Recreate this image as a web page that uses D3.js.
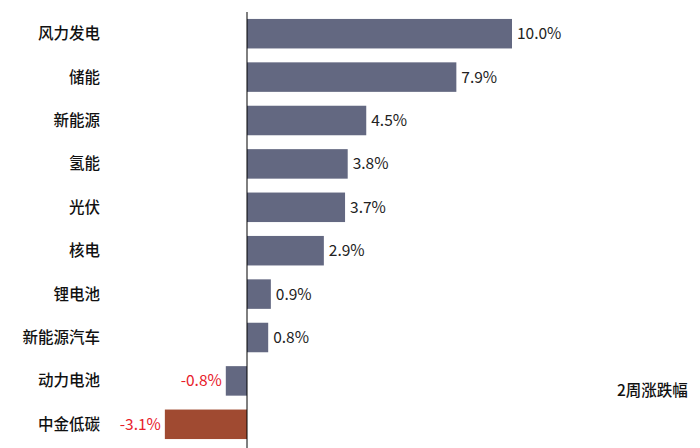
<!DOCTYPE html>
<html><head><meta charset="utf-8">
<script src="https://d3js.org/d3.v7.min.js"></script>
<style>body{margin:0;background:#fff}text{font-family:"Noto Sans CJK SC","Liberation Sans",sans-serif}</style>
</head><body><svg id="c" width="700" height="448"></svg>
<script>
const categories=["风力发电","储能","新能源","氢能","光伏","核电","锂电池","新能源汽车","动力电池","中金低碳"];
const values=[10.0,7.9,4.5,3.8,3.7,2.9,0.9,0.8,-0.8,-3.1];
const legendLabel="2周涨跌幅";
const svg=d3.select("#c");
const x=d3.scaleLinear().domain([0,10]).range([247,512]);
const y=d3.scaleBand().domain(categories).range([12,446]).paddingInner(0.32).paddingOuter(0.16);
svg.selectAll("rect").data(values).join("rect")
 .attr("x",d=>Math.min(x(0),x(d))).attr("width",d=>Math.abs(x(d)-x(0)))
 .attr("y",(d,i)=>y(categories[i])).attr("height",y.bandwidth())
 .attr("fill",(d,i)=>i===categories.length-1?"#A04A31":"#636881");
svg.append("line").attr("x1",x(0)).attr("x2",x(0)).attr("y1",12).attr("y2",448).attr("stroke","#000");
svg.selectAll(".cat").data(categories).join("text")
 .attr("x",100).attr("y",d=>y(d)+y.bandwidth()/2).attr("dy","0.35em")
 .attr("text-anchor","end").attr("font-size",15.5).attr("font-weight",500).attr("fill","#111").text(d=>d);
svg.selectAll(".val").data(values).join("text")
 .attr("x",d=>d>=0?x(d)+5:x(d)-4).attr("y",(d,i)=>y(categories[i])+y.bandwidth()/2).attr("dy","0.35em")
 .attr("text-anchor",d=>d>=0?"start":"end").attr("font-size",15.5)
 .attr("fill",d=>d>=0?"#222":"#e8202a").attr("font-family","Liberation Sans, sans-serif")
 .text(d=>d.toFixed(1)+"%");
svg.append("text").attr("x",617).attr("y",391).attr("dy","0.35em").attr("font-size",15.5).attr("font-weight",500).attr("fill","#111").text(legendLabel);
</script></body></html>
